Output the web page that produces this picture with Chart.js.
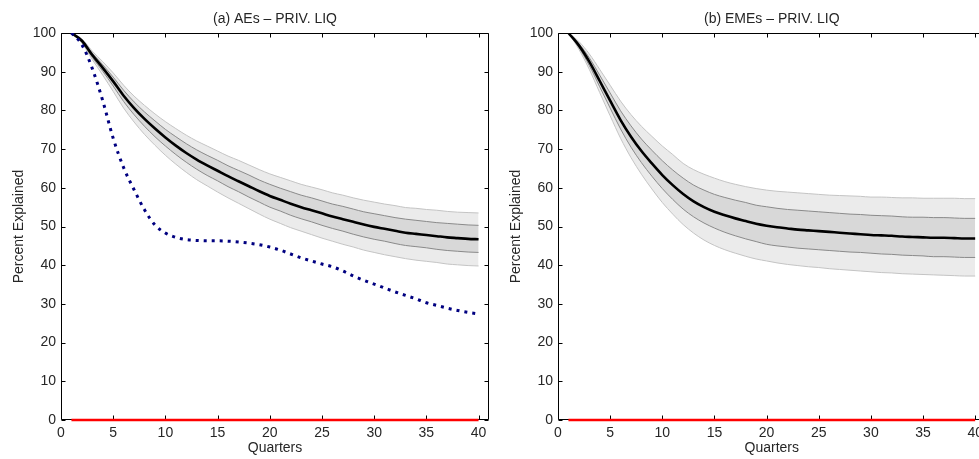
<!DOCTYPE html>
<html>
<head>
<meta charset="utf-8">
<script src="https://cdn.jsdelivr.net/npm/chart.js@4.4.1/dist/chart.umd.min.js"></script>
<style>
  html, body { margin: 0; padding: 0; overflow: hidden; background: #fff; width: 979px; height: 459px; }
  #wrapA { position: absolute; left: 0; top: 0; width: 492px; height: 459px; }
  #wrapB { position: absolute; left: 490px; top: 0; width: 500px; height: 459px; }
</style>
</head>
<body>
<div id="wrapA"><canvas id="chartA" width="492" height="459"></canvas></div>
<div id="wrapB"><canvas id="chartB" width="500" height="459"></canvas></div>
<script>
// ---------- data ----------
const quarters = [1,2,3,4,5,6,7,8,9,10,11,12,13,14,15,16,17,18,19,20,21,22,23,24,25,26,27,28,29,30,31,32,33,34,35,36,37,38,39,40];
const xTicks = [0,5,10,15,20,25,30,35,40];
const yTicks = [0,10,20,30,40,50,60,70,80,90,100];
const titleA = "(a) AEs \u2013 PRIV. LIQ";
const titleB = "(b) EMEs \u2013 PRIV. LIQ";
const yTitle = "Percent Explained";
const xTitle = "Quarters";

const aesOuterUpper = [100,98.5,95.3,92.6,89.7,86.5,83.7,81.3,79.1,77.1,75.3,73.6,72.1,70.8,69.5,68.2,67.1,65.9,64.7,63.6,62.7,61.8,60.9,60.2,59.5,58.7,58.1,57.4,56.8,56.3,55.8,55.4,54.9,54.7,54.4,54.2,53.9,53.7,53.6,53.5];
const aesInnerUpper = [100,98.3,94.8,91.8,88.6,85.2,82.2,79.6,77.3,75.1,73.2,71.4,69.8,68.4,67.1,65.7,64.5,63.3,62.0,60.9,59.9,59.0,58.1,57.4,56.6,55.8,55.2,54.5,53.8,53.3,52.8,52.3,51.9,51.6,51.3,51.0,50.8,50.6,50.4,50.3];
const aesMedian     = [100,98.0,94.3,91.0,87.5,83.8,80.6,77.8,75.3,73.0,70.9,69.0,67.3,65.8,64.4,63.0,61.7,60.4,59.1,57.9,56.9,55.9,55.0,54.2,53.4,52.6,51.9,51.2,50.5,49.9,49.4,48.9,48.4,48.1,47.8,47.5,47.2,47.0,46.8,46.7];
const aesInnerLower = [100,97.7,93.7,90.1,86.3,82.3,78.9,75.9,73.2,70.8,68.6,66.6,64.8,63.2,61.8,60.3,59.0,57.6,56.3,55.0,54.0,52.9,52.0,51.2,50.3,49.5,48.8,48.0,47.3,46.7,46.2,45.6,45.1,44.8,44.5,44.1,43.8,43.6,43.4,43.3];
const aesOuterLower = [100,97.4,93.1,89.1,84.9,80.6,77.0,73.8,71.0,68.4,66.1,64.0,62.1,60.5,58.9,57.4,56.0,54.6,53.2,51.9,50.8,49.7,48.8,47.9,47.0,46.2,45.4,44.7,43.9,43.3,42.7,42.2,41.7,41.3,41.0,40.7,40.3,40.1,39.9,39.8];
const aesDotted     = [100,97.0,90.8,82.5,72.8,65.2,59.5,54.3,50.4,48.3,47.2,46.6,46.4,46.3,46.3,46.2,46.0,45.7,45.3,44.7,43.9,42.9,41.9,41.1,40.3,39.6,38.5,37.2,36.1,35.1,34.1,33.1,32.2,31.3,30.3,29.6,28.9,28.3,27.8,27.4];

const emesOuterUpper = [100,97.8,94.6,90.6,86.5,82.4,78.9,75.9,73.3,70.8,68.6,66.3,64.7,63.5,62.5,61.6,60.9,60.3,59.8,59.4,59.1,58.9,58.7,58.5,58.3,58.1,58.0,57.9,57.8,57.6,57.6,57.5,57.4,57.4,57.3,57.3,57.3,57.3,57.2,57.2];
const emesInnerUpper = [100,97.3,93.6,89.1,84.5,79.9,76.0,72.6,69.7,67.0,64.6,62.5,60.7,59.4,58.3,57.5,56.8,56.2,55.5,55.1,54.7,54.4,54.2,54.0,53.8,53.6,53.4,53.2,53.1,52.9,52.8,52.7,52.5,52.4,52.4,52.3,52.3,52.2,52.1,52.1];
const emesMedian     = [100,96.8,92.6,87.6,82.5,77.5,73.2,69.5,66.3,63.3,60.7,58.4,56.5,55.0,53.8,52.9,52.1,51.4,50.7,50.2,49.8,49.5,49.2,49.0,48.8,48.6,48.4,48.2,48.0,47.8,47.7,47.6,47.4,47.3,47.2,47.1,47.1,47.0,46.9,46.9];
const emesInnerLower = [100,96.3,91.6,86.1,80.6,75.2,70.5,66.5,63.0,59.8,57.0,54.5,52.5,50.9,49.6,48.5,47.6,46.8,46.1,45.4,45.0,44.7,44.4,44.2,44.0,43.8,43.6,43.4,43.3,43.1,42.9,42.8,42.6,42.5,42.4,42.2,42.2,42.1,42.0,42.0];
const emesOuterLower = [100,95.8,90.6,84.6,78.6,72.8,67.8,63.5,59.7,56.2,53.2,50.5,48.3,46.5,45.1,44.0,43.1,42.3,41.6,41.1,40.6,40.2,39.9,39.6,39.4,39.1,38.9,38.7,38.5,38.3,38.1,38.0,37.8,37.7,37.6,37.5,37.4,37.3,37.2,37.2];

const zeroLine = [0,0,0,0,0,0,0,0,0,0,0,0,0,0,0,0,0,0,0,0,0,0,0,0,0,0,0,0,0,0,0,0,0,0,0,0,0,0,0,0];

// ---------- styling ----------
const FONT = "'Liberation Sans', Arial, Helvetica, sans-serif";
const TXT = '#262626';
const FS = 14;

function pts(vals) { return quarters.map((q, i) => ({ x: q, y: vals[i] })); }

const boxTicks = {
  id: 'boxTicks',
  beforeDatasetsDraw(chart) {
    const { ctx, chartArea: a, scales } = chart;
    const x = scales.x, y = scales.y;
    ctx.save();
    ctx.strokeStyle = '#000';
    ctx.lineWidth = 1;
    const L = Math.round(a.left) + 0.5, R = Math.round(a.right) - 0.5;
    const T = Math.round(a.top) + 0.5, B = Math.round(a.bottom) - 0.5;
    ctx.beginPath();
    ctx.rect(L, T, R - L, B - T);
    const len = 4;
    x.ticks.forEach(t => {
      const px = Math.round(x.getPixelForValue(t.value)) + 0.5;
      ctx.moveTo(px, B); ctx.lineTo(px, B - len);
      ctx.moveTo(px, T); ctx.lineTo(px, T + len);
    });
    y.ticks.forEach(t => {
      const py = Math.round(y.getPixelForValue(t.value)) + 0.5;
      ctx.moveTo(L, py); ctx.lineTo(L + len, py);
      ctx.moveTo(R, py); ctx.lineTo(R - len, py);
    });
    ctx.stroke();
    ctx.restore();
  }
};

function makeChart(id, title, bands, dotted, yAxisWidth, yTitlePad, rightPad) {
  const datasets = [
    { data: pts(bands[0]), borderColor: '#c4c4c4', borderWidth: 1, backgroundColor: '#ebebeb', fill: '+1', order: 7 },
    { data: pts(bands[4]), borderColor: '#c4c4c4', borderWidth: 1, fill: false, order: 6 },
    { data: pts(bands[1]), borderColor: '#8a8a8a', borderWidth: 1, backgroundColor: '#d8d8d8', fill: '+1', order: 5 },
    { data: pts(bands[3]), borderColor: '#8a8a8a', borderWidth: 1, fill: false, order: 4 },
    { data: pts(bands[2]), borderColor: '#000', borderWidth: 2.6, fill: false, order: 2 }
  ];
  if (dotted) {
    datasets.push({ data: pts(dotted), borderColor: '#000080', borderWidth: 3, borderDash: [3, 5], borderCapStyle: 'butt', fill: false, order: 1 });
  }
  datasets.push({ data: pts(zeroLine), borderColor: '#ff0000', borderWidth: 2.6, fill: false, order: 0, clip: 4 });
  datasets.forEach(d => { d.pointRadius = 0; d.cubicInterpolationMode = 'monotone'; });

  return new Chart(document.getElementById(id), {
    type: 'line',
    data: { datasets },
    options: {
      responsive: false,
      animation: false,
      events: [],
      layout: { padding: { left: 0, right: rightPad, top: 0, bottom: 0 } },
      plugins: {
        legend: { display: false },
        tooltip: { enabled: false },
        title: {
          display: true, text: title, color: TXT, fullSize: false,
          font: { family: FONT, size: FS, weight: 'normal', lineHeight: 1.2 },
          padding: { top: 11.1, bottom: 5.1 }
        }
      },
      scales: {
        x: {
          type: 'linear', min: 0, max: 41,
          afterFit(s) { s.height = 39; },
          afterBuildTicks(s) { s.ticks = xTicks.map(v => ({ value: v })); },
          ticks: { color: TXT, font: { family: FONT, size: FS }, padding: 4.9, maxRotation: 0, autoSkip: false, includeBounds: false },
          grid: { display: false, drawTicks: false, tickLength: 0 },
          border: { display: false },
          title: { display: true, text: xTitle, color: TXT, font: { family: FONT, size: FS }, padding: { top: 0, bottom: 2.6 } }
        },
        y: {
          type: 'linear', min: 0, max: 100,
          afterFit(s) { s.width = yAxisWidth; },
          afterBuildTicks(s) { s.ticks = yTicks.map(v => ({ value: v })); },
          ticks: { color: TXT, font: { family: FONT, size: FS }, padding: 5 },
          grid: { display: false, drawTicks: false, tickLength: 0 },
          border: { display: false },
          title: { display: true, text: yTitle, color: TXT, font: { family: FONT, size: FS }, padding: { top: yTitlePad, bottom: 0 } }
        }
      }
    },
    plugins: [boxTicks]
  });
}

makeChart('chartA', titleA, [aesOuterUpper, aesInnerUpper, aesMedian, aesInnerLower, aesOuterLower], aesDotted, 61, 11.1, 3);
makeChart('chartB', titleB, [emesOuterUpper, emesInnerUpper, emesMedian, emesInnerLower, emesOuterLower], null, 68, 17.4, 4.4);
</script>
</body>
</html>
